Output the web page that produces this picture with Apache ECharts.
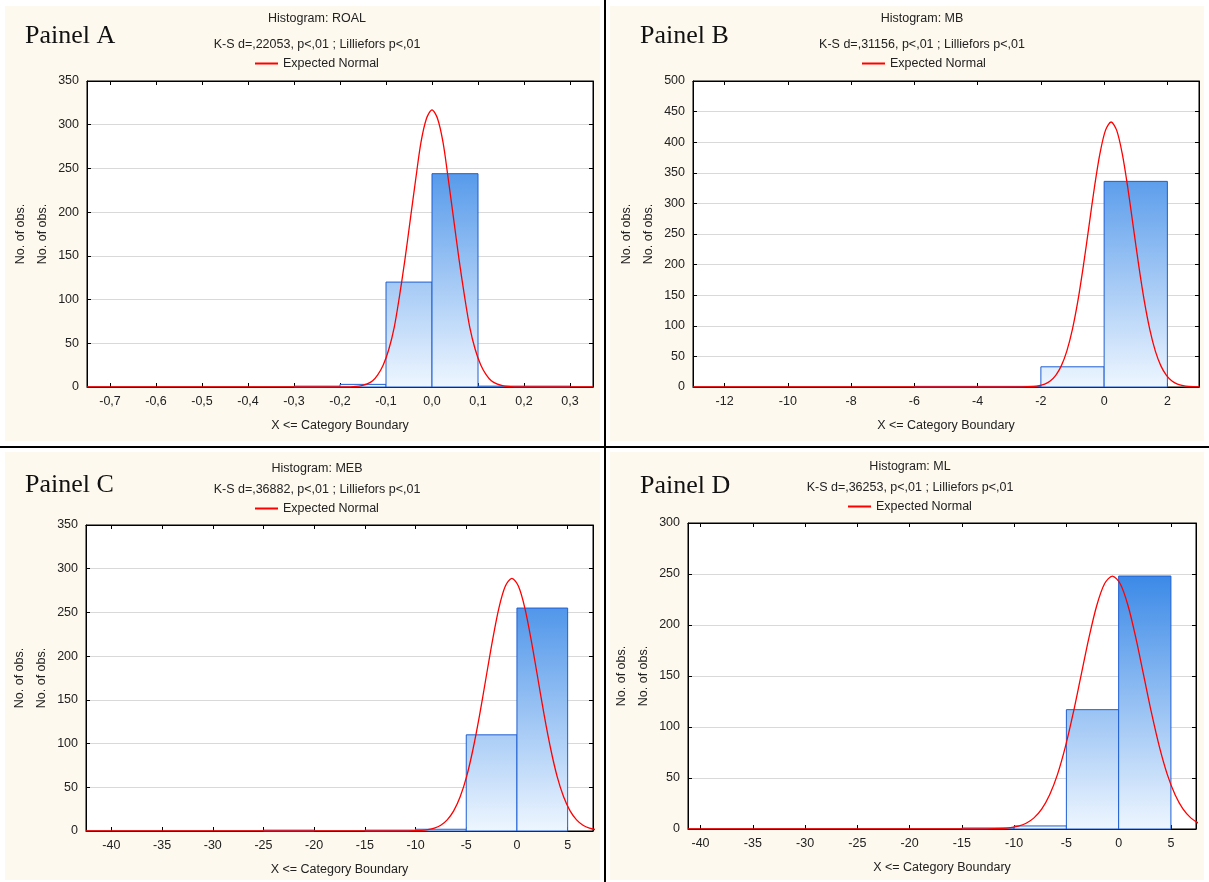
<!DOCTYPE html>
<html>
<head>
<meta charset="utf-8">
<script src="https://cdn.jsdelivr.net/npm/echarts@6/dist/echarts.min.js"></script>
<style>
  html, body { margin: 0; padding: 0; background: #fff; }
  #main { width: 1209px; height: 882px; }
</style>
</head>
<body>
<div id="main"></div>
<script>
// ---- data ----
const panelLabels = ['Painel A', 'Painel B', 'Painel C', 'Painel D'];
const histTitles = ['Histogram: ROAL', 'Histogram: MB', 'Histogram: MEB', 'Histogram: ML'];
const ksTexts = [
  'K-S d=,22053, p<,01 ; Lilliefors p<,01',
  'K-S d=,31156, p<,01 ; Lilliefors p<,01',
  'K-S d=,36882, p<,01 ; Lilliefors p<,01',
  'K-S d=,36253, p<,01 ; Lilliefors p<,01'
];

// bin edges and counts
const edgesA = [-0.7, -0.6, -0.5, -0.4, -0.3, -0.2, -0.1, 0, 0.1, 0.2, 0.3];
const countsA = [0, 0, 0, 0, 1, 3, 120, 244, 1, 1];
const edgesB = [-12, -10, -8, -6, -4, -2, 0, 2];
const countsB = [0, 0, 0, 1, 1, 33, 336];
const edgesC = [-40, -35, -30, -25, -20, -15, -10, -5, 0, 5];
const countsC = [0, 0, 0, 1, 0, 1, 2, 110, 255];
const edgesD = [-40, -35, -30, -25, -20, -15, -10, -5, 0, 5];
const countsD = [0, 0, 0, 0, 0, 1, 3, 117, 248];

// tick labels on the x axes
const ticksA = [-0.7, -0.6, -0.5, -0.4, -0.3, -0.2, -0.1, 0, 0.1, 0.2, 0.3];
const ticksB = [-12, -10, -8, -6, -4, -2, 0, 2];
const ticksC = [-40, -35, -30, -25, -20, -15, -10, -5, 0, 5];
const ticksD = [-40, -35, -30, -25, -20, -15, -10, -5, 0, 5];

// expected normal curves
const curveA = [[-0.75, 0], [-0.3, 0], [-0.188, 0.1], [-0.165, 0.7], [-0.153, 1.6], [-0.141, 3.5],
  [-0.129, 7.2], [-0.118, 13.9], [-0.106, 25.2], [-0.094, 42.9], [-0.082, 68.6], [-0.071, 102.9],
  [-0.059, 145.1], [-0.047, 192.3], [-0.035, 239.3], [-0.024, 279.8], [-0.012, 307.2], [0, 317],
  [0.012, 307.2], [0.024, 279.8], [0.035, 239.3], [0.047, 192.3], [0.059, 145.1], [0.071, 102.9],
  [0.082, 68.6], [0.094, 42.9], [0.106, 25.2], [0.118, 13.9], [0.129, 7.2], [0.141, 3.5],
  [0.153, 1.6], [0.165, 0.7], [0.188, 0.1], [0.35, 0]];
const curveB = [[-13, 0], [-4, 0], [-2.58, 0.15], [-2.23, 0.95], [-2.055, 2.2], [-1.88, 4.8],
  [-1.705, 9.9], [-1.53, 19], [-1.355, 34.5], [-1.18, 58.6], [-1.005, 93.7], [-0.83, 140.6],
  [-0.655, 198.2], [-0.48, 262.6], [-0.305, 326.8], [-0.13, 382.1], [0.045, 419.7], [0.22, 433],
  [0.395, 419.7], [0.57, 382.1], [0.745, 326.8], [0.92, 262.6], [1.095, 198.2], [1.27, 140.6],
  [1.445, 93.7], [1.62, 58.6], [1.795, 34.5], [1.97, 19], [2.145, 9.9], [2.32, 4.8],
  [2.495, 2.2], [2.67, 0.95], [3.02, 0.15]];
const curveC = [[-42.5, 0], [-16, 0], [-10.7, 0.1], [-9.43, 0.63], [-8.79, 1.5], [-8.15, 3.2],
  [-7.51, 6.6], [-6.88, 12.7], [-6.24, 23], [-5.6, 39.1], [-4.96, 62.5], [-4.33, 93.8],
  [-3.69, 132.3], [-3.05, 175.3], [-2.41, 218.1], [-1.78, 255], [-1.14, 280.1], [-0.5, 289],
  [0.14, 280.1], [0.78, 255], [1.41, 218.1], [2.05, 175.3], [2.69, 132.3], [3.33, 93.8],
  [3.96, 62.5], [4.6, 39.1], [5.24, 23], [5.88, 12.7], [6.51, 6.6], [7.15, 3.2], [7.79, 1.5]];
const curveD = [[-41.2, 0], [-18, 0], [-12.6, 0.08], [-11.1, 0.54], [-10.35, 1.26], [-9.6, 2.75],
  [-8.85, 5.65], [-8.1, 10.9], [-7.35, 19.7], [-6.6, 33.6], [-5.85, 53.6], [-5.1, 80.5],
  [-4.35, 113.5], [-3.6, 150.4], [-2.85, 187.2], [-2.1, 218.9], [-1.35, 240.4], [-0.6, 248],
  [0.15, 240.4], [0.9, 218.9], [1.65, 187.2], [2.4, 150.4], [3.15, 113.5], [3.9, 80.5],
  [4.65, 53.6], [5.4, 33.6], [6.15, 19.7], [6.9, 10.9], [7.65, 5.65]];

const yMaxes = [350, 500, 350, 300];
const xRanges = [[-0.75, 0.35], [-13, 3], [-42.5, 7.5], [-41.2, 7.4]];

// ---- layout ----
const FONT = 'Liberation Sans, Arial, sans-serif';
const FS = 12.5;
const layout = [
  { grid: [87, 81, 506, 306], tx: 317, tTop: 12, gap: 13, legX: 255, legTop: 57, lx: 25, ly: 36 },
  { grid: [693, 81, 506, 306], tx: 922, tTop: 12, gap: 13, legX: 862, legTop: 57, lx: 640, ly: 36 },
  { grid: [86, 525, 507, 306], tx: 317, tTop: 462, gap: 8, legX: 255, legTop: 502, lx: 25, ly: 485 },
  { grid: [688, 523, 508, 306], tx: 910, tTop: 460, gap: 8, legX: 848, legTop: 500, lx: 640, ly: 486 }
];

const edges = [edgesA, edgesB, edgesC, edgesD];
const counts = [countsA, countsB, countsC, countsD];
const ticks = [ticksA, ticksB, ticksC, ticksD];
const curves = [curveA, curveB, curveC, curveD];

function fmtTick(i) {
  return function (v) {
    if (i === 0) return v.toFixed(1).replace('.', ',');
    return String(v);
  };
}

function renderBin(params, api) {
  const n = api.value(2);
  if (!n) return null;
  const p0 = api.coord([api.value(0), n]);
  const p1 = api.coord([api.value(1), 0]);
  const cs = params.coordSys;
  const fill = new echarts.graphic.LinearGradient(0, cs.y, 0, cs.y + cs.height, [
    { offset: 0, color: '#1673e2' },
    { offset: 1, color: '#eef6ff' }
  ], true);
  return {
    type: 'rect',
    shape: { x: p0[0], y: p0[1], width: p1[0] - p0[0], height: p1[1] - p0[1] },
    style: { fill: fill, stroke: '#1f5fd2', lineWidth: 1 }
  };
}

const grids = [], xAxes = [], yAxes = [], titles = [], legends = [], series = [], graphics = [];

// panel backgrounds and dividers
[[5, 6, 595, 435], [610, 6, 594, 435], [5, 452, 595, 428], [610, 452, 594, 428]].forEach(r => {
  graphics.push({ type: 'rect', z: -10, shape: { x: r[0], y: r[1], width: r[2], height: r[3] }, style: { fill: '#fdf9ee' } });
});
graphics.push({ type: 'line', z: 100, shape: { x1: 605, y1: 0, x2: 605, y2: 882 }, style: { stroke: '#000', lineWidth: 2 } });
graphics.push({ type: 'line', z: 100, shape: { x1: 0, y1: 447, x2: 1209, y2: 447 }, style: { stroke: '#000', lineWidth: 2 } });

for (let i = 0; i < 4; i++) {
  const L = layout[i];
  grids.push({
    left: L.grid[0], top: L.grid[1], width: L.grid[2], height: L.grid[3],
    show: true, backgroundColor: '#ffffff', borderColor: '#000', borderWidth: 1
  });
  // bottom axis
  xAxes.push({
    type: 'value', gridIndex: i, position: 'bottom', min: xRanges[i][0], max: xRanges[i][1],
    name: 'X <= Category Boundary', nameLocation: 'middle', nameGap: 32,
    nameTextStyle: { fontSize: FS, color: '#222', fontFamily: FONT },
    axisLine: { show: true, onZero: false, lineStyle: { color: '#000', width: 1 } },
    axisTick: { show: true, inside: true, length: 4, customValues: ticks[i], lineStyle: { color: '#000' } },
    axisLabel: { customValues: ticks[i], formatter: fmtTick(i), fontSize: FS, color: '#222', fontFamily: FONT, margin: 8 },
    splitLine: { show: false }
  });
  // mirrored top axis (ticks only)
  xAxes.push({
    type: 'value', gridIndex: i, position: 'top', min: xRanges[i][0], max: xRanges[i][1],
    axisLine: { show: true, onZero: false, lineStyle: { color: '#000', width: 1 } },
    axisTick: { show: true, inside: true, length: 4, customValues: ticks[i], lineStyle: { color: '#000' } },
    axisLabel: { show: false }, splitLine: { show: false }
  });
  yAxes.push({
    type: 'value', gridIndex: i, position: 'left', min: 0, max: yMaxes[i], interval: 50,
    name: 'No. of obs.\nNo. of obs.', nameLocation: 'middle', nameGap: 33, nameRotate: 90,
    nameTextStyle: { fontSize: FS, color: '#222', fontFamily: FONT, lineHeight: 22 },
    axisLine: { show: true, onZero: false, lineStyle: { color: '#000', width: 1 } },
    axisTick: { show: true, inside: true, length: 4, lineStyle: { color: '#000' } },
    axisLabel: { fontSize: FS, color: '#222', fontFamily: FONT, margin: 8 },
    splitLine: { show: true, lineStyle: { color: '#d9d9d9', width: 1 } }
  });
  yAxes.push({
    type: 'value', gridIndex: i, position: 'right', min: 0, max: yMaxes[i], interval: 50,
    axisLine: { show: true, onZero: false, lineStyle: { color: '#000', width: 1 } },
    axisTick: { show: true, inside: true, length: 4, lineStyle: { color: '#000' } },
    axisLabel: { show: false }, splitLine: { show: false }
  });

  titles.push({
    text: histTitles[i], subtext: ksTexts[i], left: L.tx, top: L.tTop, textAlign: 'center',
    padding: 0, itemGap: L.gap,
    textStyle: { fontSize: FS, fontWeight: 'normal', color: '#222', fontFamily: FONT },
    subtextStyle: { fontSize: FS, color: '#222', fontFamily: FONT }
  });
  legends.push({
    left: L.legX, top: L.legTop, orient: 'horizontal', padding: 0, itemWidth: 23, itemHeight: 2,
    icon: 'rect', selectedMode: false, data: ['Expected Normal'],
    textStyle: { fontSize: FS, color: '#222', fontFamily: FONT }
  });

  graphics.push({
    type: 'text', x: L.lx, y: L.ly, z: 50,
    style: { text: panelLabels[i], font: '26px "Liberation Serif", "Times New Roman", serif', fill: '#111', verticalAlign: 'middle' }
  });

  const binData = [];
  for (let k = 0; k < counts[i].length; k++) binData.push([edges[i][k], edges[i][k + 1], counts[i][k]]);
  series.push({
    type: 'custom', name: histTitles[i], coordinateSystem: 'cartesian2d',
    xAxisIndex: i * 2, yAxisIndex: i * 2, renderItem: renderBin,
    encode: { x: [0, 1], y: 2 }, data: binData, z: 2
  });
  series.push({
    type: 'line', name: 'Expected Normal', xAxisIndex: i * 2, yAxisIndex: i * 2,
    data: curves[i], smooth: 0.3, showSymbol: false, symbol: 'none',
    itemStyle: { color: '#ff0000' }, lineStyle: { color: '#ff0000', width: 1.3 }, z: 5, clip: true
  });
}

const chart = echarts.init(document.getElementById('main'), null, { renderer: 'canvas' });
chart.setOption({
  animation: false,
  backgroundColor: '#ffffff',
  title: titles,
  legend: legends,
  grid: grids,
  xAxis: xAxes,
  yAxis: yAxes,
  series: series,
  graphic: { elements: graphics }
});
</script>
</body>
</html>
